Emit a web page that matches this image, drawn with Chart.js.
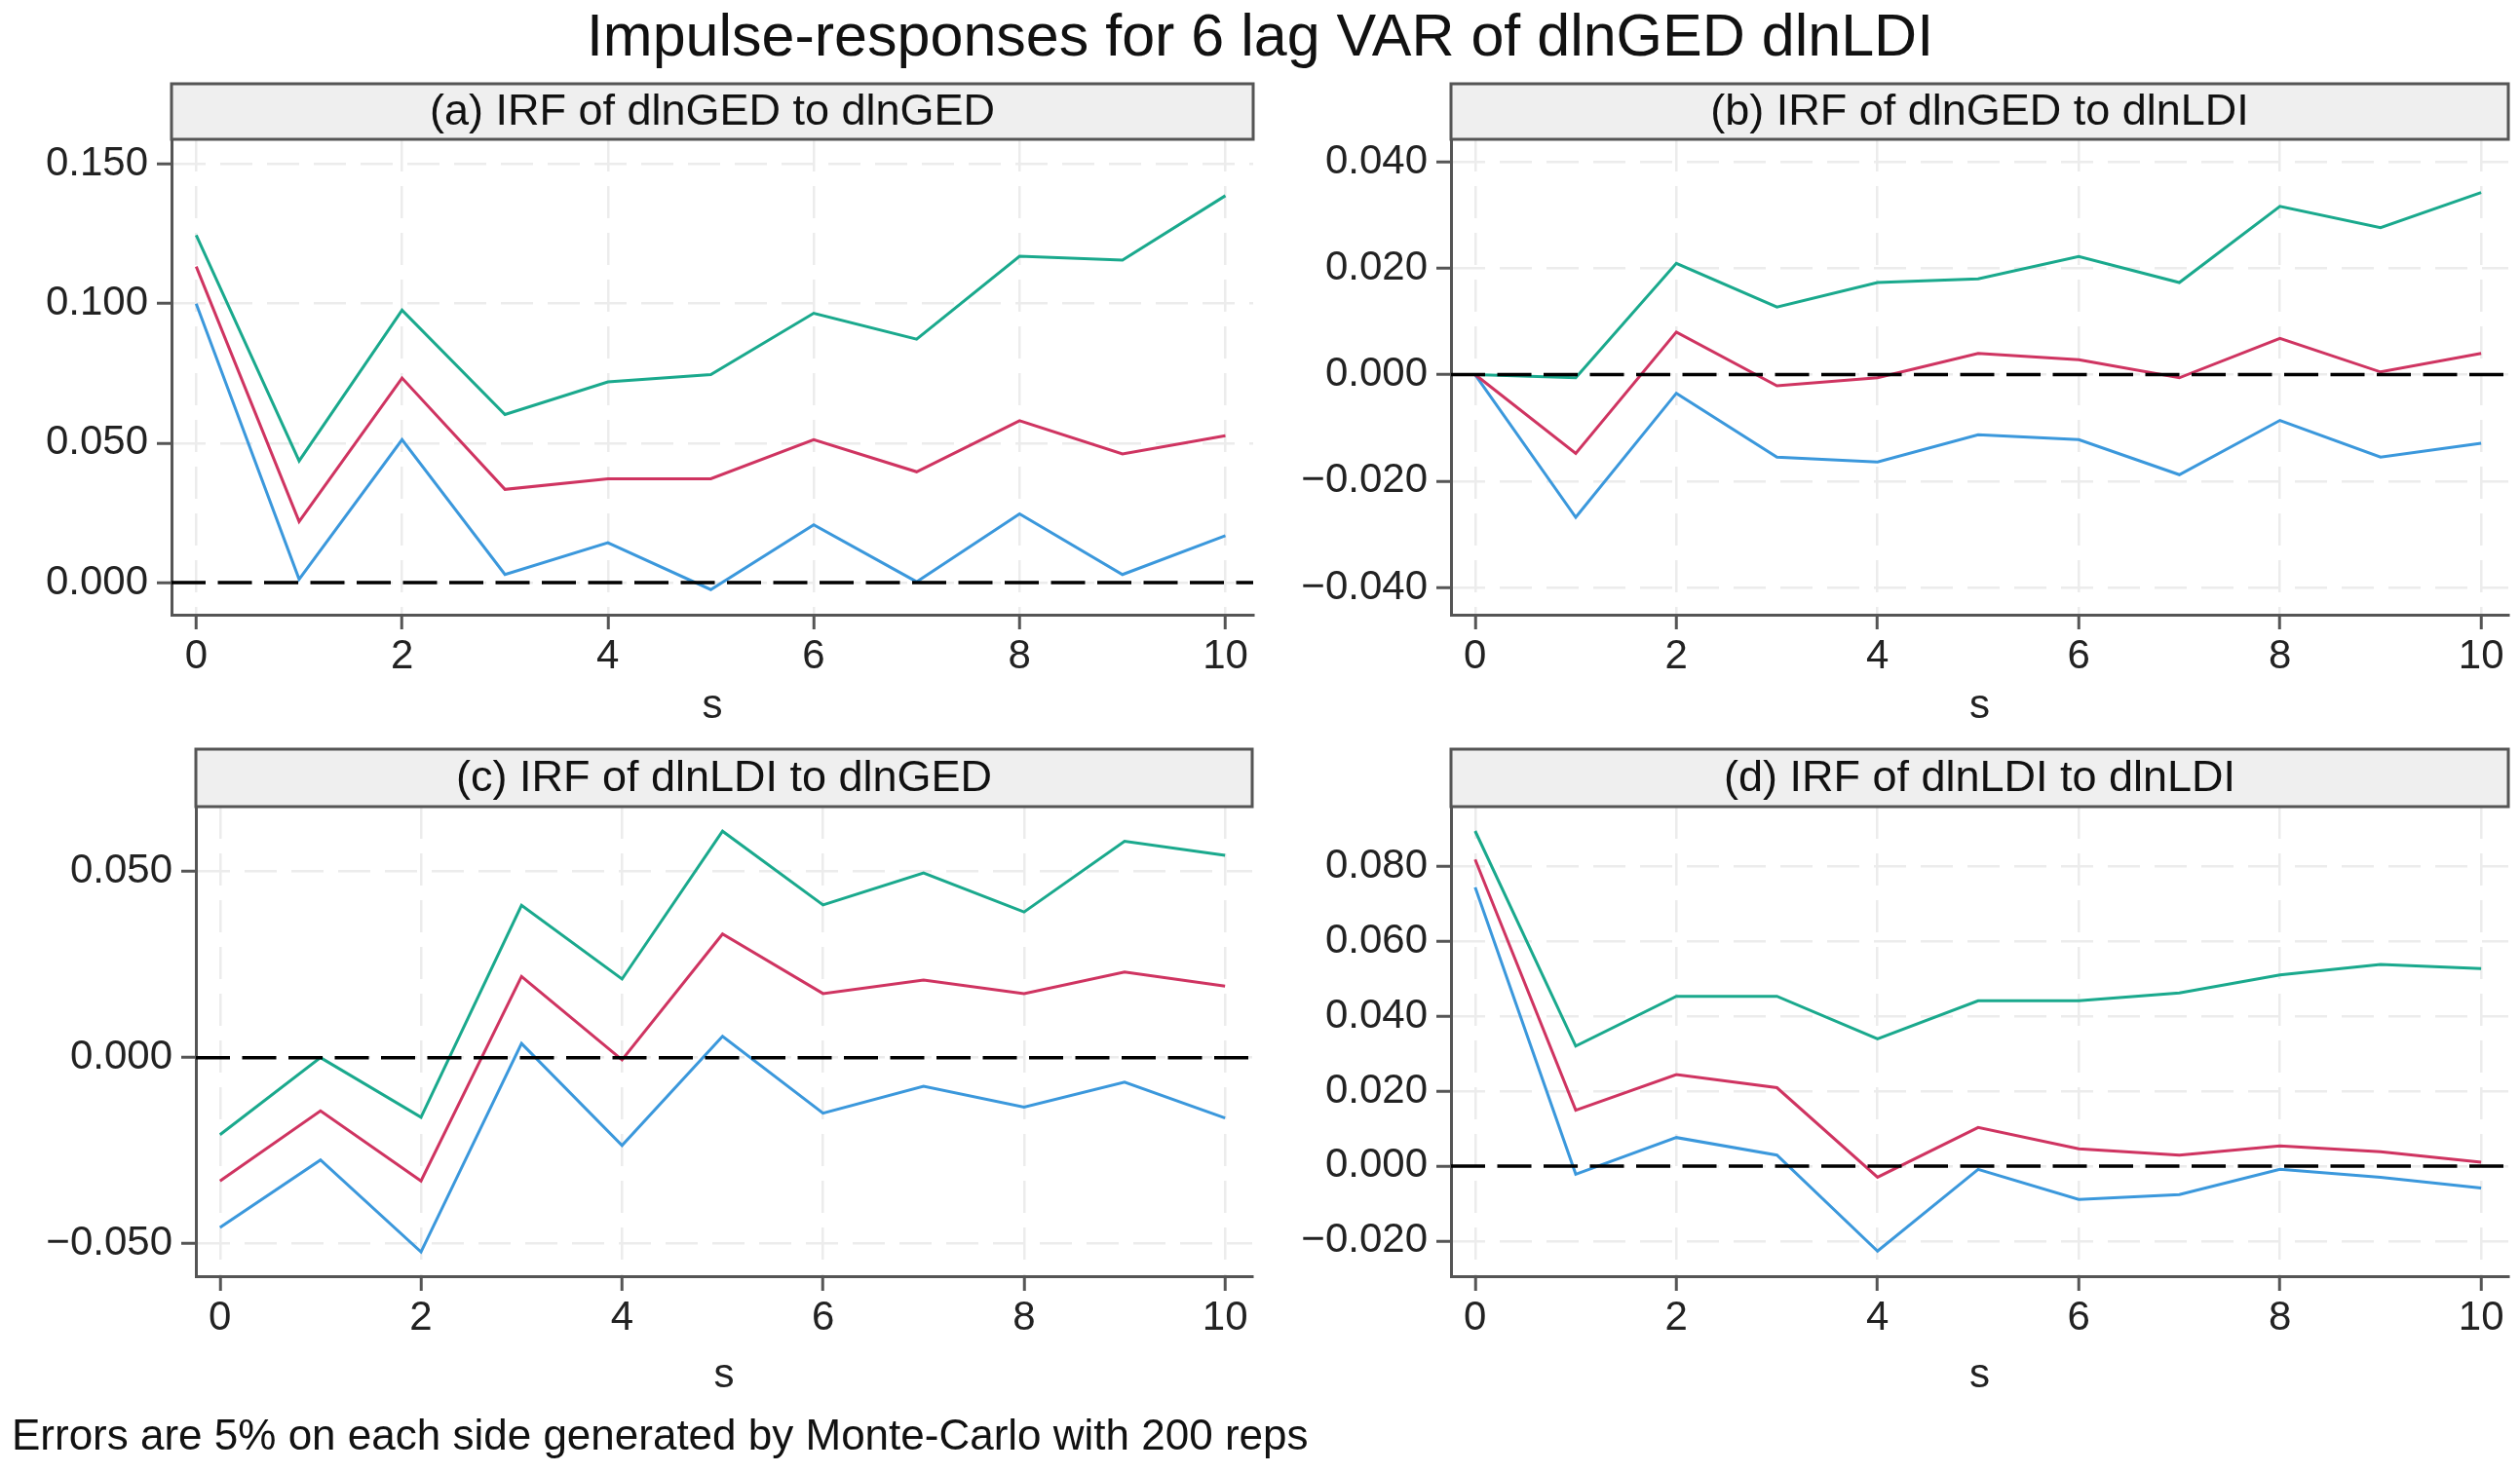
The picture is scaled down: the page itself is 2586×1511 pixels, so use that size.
<!DOCTYPE html>
<html>
<head>
<meta charset="utf-8">
<script src="https://cdn.jsdelivr.net/npm/chart.js@4.4.1/dist/chart.umd.min.js"></script>
<style>
body { margin: 0; background: #fff; }
#page { position: relative; width: 2586px; height: 1511px; background: #fff; font-family: "Liberation Sans", Arial, sans-serif; color: #111; }
canvas { position: absolute; }
#title { position: absolute; left: 0; top: 0; width: 2586px; text-align: center; font-size: 61px; line-height: 72px; }
#note { position: absolute; left: 12px; top: 1447px; font-size: 44px; line-height: 52px; }
</style>
</head>
<body>
<div id="page">
  <div id="title">Impulse-responses for 6 lag VAR of dlnGED dlnLDI</div>
  <canvas id="pa" width="1293" height="760" style="left:0px;top:0px"></canvas>
  <canvas id="pb" width="1293" height="760" style="left:1293px;top:0px"></canvas>
  <canvas id="pc" width="1293" height="700" style="left:0px;top:760px"></canvas>
  <canvas id="pd" width="1293" height="700" style="left:1293px;top:760px"></canvas>
  <div id="note">Errors are 5% on each side generated by Monte-Carlo with 200 reps</div>
</div>
<script>
const steps = [0, 1, 2, 3, 4, 5, 6, 7, 8, 9, 10];
const xTicks = [0, 2, 4, 6, 8, 10];

// (a) dlnGED -> dlnGED
const aUpper = [0.1245, 0.0436, 0.0976, 0.0602, 0.0719, 0.0745, 0.0965, 0.0872, 0.1169, 0.1155, 0.1386];
const aIrf   = [0.1132, 0.0219, 0.0733, 0.0334, 0.0372, 0.0372, 0.0512, 0.0397, 0.0580, 0.0461, 0.0526];
const aLower = [0.0999, 0.0012, 0.0512, 0.0029, 0.0143, -0.0025, 0.0207, 0.0003, 0.0246, 0.0029, 0.0168];
const aTicks = [0, 0.05, 0.10, 0.15];

// (b) dlnGED -> dlnLDI
const bUpper = [0, -0.0006, 0.0209, 0.0127, 0.0173, 0.0180, 0.0222, 0.0173, 0.0316, 0.0276, 0.0342];
const bIrf   = [0, -0.0148, 0.0080, -0.0021, -0.0006, 0.0040, 0.0028, -0.0006, 0.0068, 0.0005, 0.0040];
const bLower = [0, -0.0268, -0.0035, -0.0155, -0.0164, -0.0113, -0.0122, -0.0188, -0.0086, -0.0155, -0.0129];
const bTicks = [-0.04, -0.02, 0, 0.02, 0.04];

// (c) dlnLDI -> dlnGED
const cUpper = [-0.0207, 0.0000, -0.0160, 0.0409, 0.0211, 0.0608, 0.0410, 0.0496, 0.0391, 0.0581, 0.0543];
const cIrf   = [-0.0331, -0.0143, -0.0331, 0.0218, -0.0006, 0.0332, 0.0172, 0.0208, 0.0172, 0.0230, 0.0192];
const cLower = [-0.0456, -0.0275, -0.0522, 0.0038, -0.0236, 0.0057, -0.0149, -0.0077, -0.0133, -0.0066, -0.0162];
const cTicks = [-0.05, 0, 0.05];

// (d) dlnLDI -> dlnLDI
const dUpper = [0.0894, 0.0320, 0.0453, 0.0453, 0.0339, 0.0441, 0.0441, 0.0462, 0.0510, 0.0538, 0.0527];
const dIrf   = [0.0818, 0.0149, 0.0244, 0.0209, -0.0030, 0.0103, 0.0046, 0.0029, 0.0054, 0.0038, 0.0010];
const dLower = [0.0744, -0.0022, 0.0076, 0.0029, -0.0227, -0.0009, -0.0089, -0.0076, -0.0009, -0.0030, -0.0059];
const dTicks = [-0.02, 0, 0.02, 0.04, 0.06, 0.08];

const FONT = '"Liberation Sans", Arial, sans-serif';
const colUpper = '#1aa98d', colIrf = '#cf3461', colLower = '#3b98dc';

// header strip above the plot + dashed zero line
const panelDeco = {
    id: 'panelDeco',
    afterDatasetsDraw(chart) {
        const { ctx, chartArea: ca } = chart;
        const y0 = chart.scales.y.getPixelForValue(0);
        ctx.save();
        ctx.strokeStyle = '#000';
        ctx.lineWidth = 3.5;
        ctx.setLineDash([35, 12.5]);
        ctx.beginPath();
        ctx.moveTo(ca.left, y0);
        ctx.lineTo(ca.right, y0);
        ctx.stroke();
        ctx.restore();
    },
    afterDraw(chart, args, opts) {
        const { ctx, chartArea: ca } = chart;
        const top = ca.top - opts.height;
        ctx.save();
        ctx.fillStyle = '#efefef';
        ctx.fillRect(ca.left, top, ca.right - ca.left, opts.height);
        ctx.strokeStyle = '#555';
        ctx.lineWidth = 3;
        ctx.strokeRect(ca.left, top, ca.right - ca.left, opts.height);
        ctx.fillStyle = '#111';
        ctx.font = '45px ' + FONT;
        ctx.textAlign = 'center';
        ctx.textBaseline = 'middle';
        ctx.fillText(opts.text, (ca.left + ca.right) / 2, top + opts.height / 2 + 1);
        ctx.restore();
    }
};

function fmt(v) {
    const s = Math.abs(v).toFixed(3);
    return v < -1e-9 ? '\u2212' + s : s;
}

function series(vals, color) {
    return {
        data: steps.map((s, i) => ({ x: s, y: vals[i] })),
        borderColor: color,
        borderWidth: 3,
        pointRadius: 0,
        tension: 0,
        fill: false
    };
}

function makePanel(id, header, upper, irf, lower, yMin, yMax, yTicks, box) {
    new Chart(document.getElementById(id), {
        type: 'line',
        data: { datasets: [series(upper, colUpper), series(irf, colIrf), series(lower, colLower)] },
        options: {
            responsive: false,
            animation: false,
            devicePixelRatio: 1,
            layout: { padding: { top: box.top, right: box.right, left: 0, bottom: 0 } },
            plugins: {
                legend: { display: false },
                tooltip: { enabled: false },
                panelDeco: { text: header, height: box.head }
            },
            scales: {
                x: {
                    type: 'linear',
                    min: -0.24,
                    max: 10.27,
                    afterBuildTicks: s => { s.ticks = xTicks.map(v => ({ value: v })); },
                    afterFit: s => { s.height = box.xh; },
                    grid: { color: '#ececec', lineWidth: 2.5, tickLength: 15, tickColor: '#555', tickWidth: 3 },
                    border: { color: '#555', width: 3, dash: [33, 15] },
                    ticks: { color: '#222', font: { family: FONT, size: 42 }, padding: 3, maxRotation: 0 },
                    title: { display: true, text: 's', color: '#222', font: { family: FONT, size: 42 }, padding: { top: 0, bottom: box.sb } }
                },
                y: {
                    min: yMin,
                    max: yMax,
                    afterBuildTicks: s => { s.ticks = yTicks.map(v => ({ value: v })); },
                    afterFit: s => { s.width = box.yw; },
                    grid: { color: '#ececec', lineWidth: 2.5, tickLength: 15, tickColor: '#555', tickWidth: 3 },
                    border: { color: '#555', width: 3, dash: [33, 15] },
                    ticks: { color: '#222', font: { family: FONT, size: 42 }, padding: 9, callback: v => fmt(v) }
                }
            }
        },
        plugins: [panelDeco]
    });
}

makePanel('pa', '(a) IRF of dlnGED to dlnGED', aUpper, aIrf, aLower, -0.0115, 0.1588, aTicks,
    { top: 143, right: 7, head: 57, yw: 176, xh: 129, sb: 9 });
makePanel('pb', '(b) IRF of dlnGED to dlnLDI', bUpper, bIrf, bLower, -0.0451, 0.0442, bTicks,
    { top: 143, right: 12, head: 57, yw: 196, xh: 129, sb: 9 });
makePanel('pc', '(c) IRF of dlnLDI to dlnGED', cUpper, cIrf, cLower, -0.0587, 0.0674, cTicks,
    { top: 68, right: 8, head: 59, yw: 201, xh: 150, sb: 22 });
makePanel('pd', '(d) IRF of dlnLDI to dlnLDI', dUpper, dIrf, dLower, -0.0294, 0.0959, dTicks,
    { top: 68, right: 12, head: 59, yw: 196, xh: 150, sb: 22 });
</script>
</body>
</html>
